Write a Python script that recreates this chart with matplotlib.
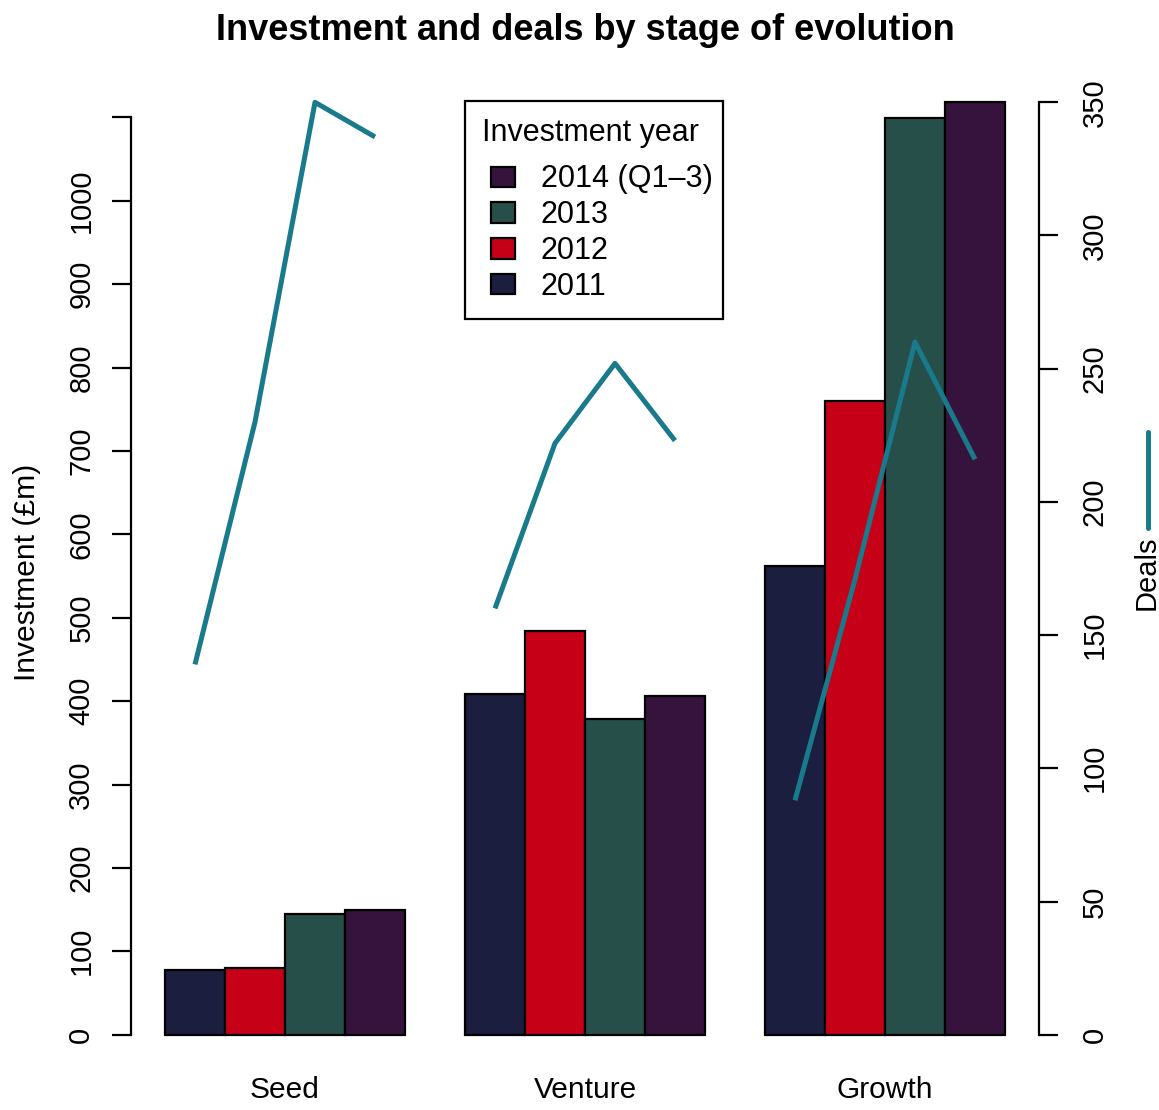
import numpy as np
import matplotlib.pyplot as plt
import matplotlib.patches as mpatches
from matplotlib.lines import Line2D
from matplotlib.legend_handler import HandlerPatch

plt.rcParams['font.family'] = ['Liberation Sans', 'DejaVu Sans']

# data
stages = ["Seed", "Venture", "Growth"]
years = ["2011", "2012", "2013", "2014 (Q1\u20133)"]
colours = ["#1b1e3f", "#c60017", "#274f4a", "#36133c"]
line_colour = "#187a8a"

invest_2011 = [77, 408, 562]
invest_2012 = [80, 484, 760]
invest_2013 = [145, 378, 1099]
invest_2014 = [150, 406, 1118]

deals_2011 = [139, 160, 88]
deals_2012 = [230, 222, 171]
deals_2013 = [350, 252, 260]
deals_2014 = [337, 223, 216]

investment = np.array([invest_2011, invest_2012, invest_2013, invest_2014])
deals = np.array([deals_2011, deals_2012, deals_2013, deals_2014])

W, H = 1159, 1110
fig = plt.figure(figsize=(W / 100, H / 100), dpi=100)
ax = fig.add_axes([131.4 / W, 1 - 1072 / H, 907.2 / W, 1007 / H])

n_years = len(years)
group_centres = []
for g, stage in enumerate(stages):
    lefts = 1 + g * (n_years + 1) + np.arange(n_years)
    for j in range(n_years):
        ax.bar(lefts[j], investment[j, g], width=1, align="edge",
               color=colours[j], edgecolor="black", linewidth=1.6, zorder=2)
    group_centres.append(lefts[0] + n_years / 2)

xmax = 1 + len(stages) * (n_years + 1) - 1
pad_x = 0.04 * (xmax - 1)
ax.set_xlim(1 - pad_x, xmax + pad_x)
ymax = investment.max()
ax.set_ylim(-0.04 * ymax, 1.04 * ymax)

for s in ["top", "right", "bottom"]:
    ax.spines[s].set_visible(False)
ax.spines["left"].set_linewidth(1.6)
ax.spines["left"].set_bounds(0, 1100)
ax.set_yticks(range(0, 1101, 100))
ax.set_yticklabels([str(v) for v in range(0, 1001, 100)] + [""],
                   rotation=90, va="center")
ax.tick_params(axis="y", length=14, width=1.6, labelsize=21, pad=12)
ax.set_xticks(group_centres)
ax.set_xticklabels(stages)
ax.tick_params(axis="x", length=0, labelsize=21.5, pad=3)

# deals on a second axis
ax2 = ax.twinx()
dmax = 350
ax2.set_ylim(-0.04 * dmax, 1.04 * dmax)
for g in range(len(stages)):
    xs = 1 + g * (n_years + 1) + np.arange(n_years) + 0.5
    ax2.plot(xs, deals[:, g], color=line_colour, linewidth=3.6,
             solid_capstyle="butt", zorder=3)
for s in ["top", "left", "bottom"]:
    ax2.spines[s].set_visible(False)
ax2.spines["right"].set_linewidth(1.6)
ax2.spines["right"].set_bounds(0, 350)
ax2.set_yticks(range(0, 351, 50))
ax2.set_yticklabels([str(v) for v in range(0, 351, 50)], rotation=90, va="center")
ax2.tick_params(axis="y", length=14, width=1.6, labelsize=21, pad=16.5)

fig.text(27 / W, 1 - 572 / H, "Investment (\u00a3m)", rotation=90,
         ha="center", va="center", fontsize=21.6)
fig.text(1147 / W, 1 - 573 / H, "Deals", rotation=90,
         ha="center", va="center", fontsize=21)
fig.add_artist(Line2D([1148 / W, 1148 / W], [1 - 432 / H, 1 - 528 / H],
                      transform=fig.transFigure, color=line_colour,
                      linewidth=3.6, solid_capstyle="round"))

fig.text(585 / W, 1 - 31 / H, "Investment and deals by stage of evolution",
         ha="center", va="center", fontsize=26, fontweight="bold")


# legend squares sit a little in from the frame, as in the original
def square(legend, orig_handle, xdescent, ydescent, width, height, fontsize):
    off = 6.5
    return mpatches.Rectangle((-xdescent + off, -ydescent), width - off, height)


handles = [mpatches.Patch(facecolor=colours[j], edgecolor="black", linewidth=1.6,
                          label=years[j]) for j in reversed(range(n_years))]
leg_h = 0.01
leg = ax.legend(handles=handles, title="Investment year", fontsize=22,
                title_fontsize=22, loc="upper left",
                bbox_to_anchor=(465 / W, 1 - 101 / H - leg_h, 258 / W, leg_h),
                bbox_transform=fig.transFigure, mode="expand", borderaxespad=0,
                handler_map={mpatches.Patch: HandlerPatch(patch_func=square)},
                handlelength=1.08, handleheight=0.65, handletextpad=0.85,
                labelspacing=0.19, borderpad=0.55, fancybox=False, framealpha=1,
                edgecolor="black", alignment="left")
leg.get_frame().set_linewidth(1.6)
leg._legend_box.sep = 12

fig.savefig("out.png", dpi=100)
